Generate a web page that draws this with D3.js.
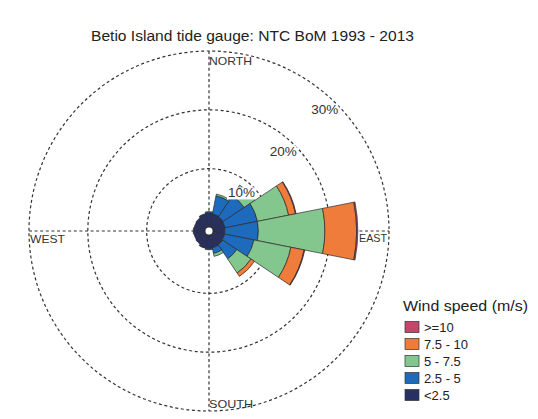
<!DOCTYPE html>
<html>
<head>
<meta charset="utf-8">
<script src="https://cdn.jsdelivr.net/npm/d3@7"></script>
<style>
  html, body { margin: 0; padding: 0; background: #fff; }
  svg { display: block; font-family: "Liberation Sans", Arial, sans-serif; }
</style>
</head>
<body>
<svg id="rose" width="538" height="419"></svg>
<script>
// Wind direction sectors (16 points, clockwise from north)
const directions = ["N","NNE","NE","ENE","E","ESE","SE","SSE","S","SSW","SW","WSW","W","WNW","NW","NNW"];

// Frequency (%) of each speed band per direction
const speedLt25   = [2.5,2.4,2.3,2.2,2.1,2.1,2.2,2.3,2.4,2.3,2.1,2.0,2.1,2.0,2.1,2.3];
const speed25to5  = [0.2,3.1,4.3,5.6,5.7,5.1,2.9,1.0,0.2,0.1,0,0,0,0,0,0.1];
const speed5to75  = [0,0.3,2.2,5.4,11.3,6.4,2.9,0.5,0,0,0,0,0,0,0,0];
const speed75to10 = [0,0,0,1.2,5.4,2.3,0.7,0,0,0,0,0,0,0,0,0];
const speedGe10   = [0,0,0,0.1,0.2,0.1,0,0,0,0,0,0,0,0,0,0];

// Band labels (legend order, top to bottom) and colours
const bandLabels = [">=10","7.5 - 10","5 - 7.5","2.5 - 5","<2.5"];
const bandColors = ["#c2476a","#ef7c3a","#84c78e","#1e6bbd","#282f62"];

// Grid rings and their labels
const ringValues = [10, 20, 30];
const ringLabels = ["10%","20%","30%"];
const compassLabels = ["NORTH","EAST","SOUTH","WEST"];
const titleText = "Betio Island tide gauge: NTC BoM 1993 - 2013";
const legendTitle = "Wind speed (m/s)";

const svg = d3.select("#rose");
const cx = 209, cy = 231;
const hole = 3.5;

// radial scale: percent -> pixels (small open hole at the centre)
const r = d3.scaleLinear().domain([0, 30]).range([hole, 180]);
// angular scale: direction -> sector start angle (radians, 0 = north, clockwise)
const angle = d3.scaleBand().domain(directions).range([-Math.PI / 16, 2 * Math.PI - Math.PI / 16]);

const g = svg.append("g").attr("transform", `translate(${cx},${cy})`);

// grid: dashed rings
g.selectAll("circle.ring").data(ringValues).join("circle")
  .attr("class", "ring")
  .attr("r", d => r(d))
  .attr("fill", "none")
  .attr("stroke", "#333")
  .attr("stroke-width", 1.2)
  .attr("stroke-dasharray", "3,2.6");

// grid: dashed cross-hair axes
const rMax = r(30);
g.append("line").attr("x1", 0).attr("y1", -rMax).attr("x2", 0).attr("y2", rMax)
  .attr("stroke", "#333").attr("stroke-width", 1.2).attr("stroke-dasharray", "3,2.6");
g.append("line").attr("x1", -rMax).attr("y1", 0).attr("x2", rMax).attr("y2", 0)
  .attr("stroke", "#333").attr("stroke-width", 1.2).attr("stroke-dasharray", "3,2.6");

// stack the bands outward from the centre: <2.5, 2.5-5, 5-7.5, 7.5-10, >=10
const bandsInner = [speedLt25, speed25to5, speed5to75, speed75to10, speedGe10];
const colorsInner = bandColors.slice().reverse();
const pieces = [];
directions.forEach((dir, i) => {
  let cum = 0;
  bandsInner.forEach((arr, b) => {
    const v = arr[i];
    if (v > 0) pieces.push({ dir, b, lo: cum, hi: cum + v });
    cum += v;
  });
});

const arc = d3.arc()
  .innerRadius(d => r(d.lo))
  .outerRadius(d => r(d.hi))
  .startAngle(d => angle(d.dir))
  .endAngle(d => angle(d.dir) + angle.bandwidth());

g.selectAll("path.band").data(pieces).join("path")
  .attr("class", "band")
  .attr("d", arc)
  .attr("fill", d => colorsInner[d.b])
  .attr("stroke", "#2a2a2a")
  .attr("stroke-width", 0.7)
  .attr("stroke-linejoin", "round");

// open centre
g.append("circle").attr("r", hole).attr("fill", "#fff");

// ring labels with a white backing, placed at 45 degrees
const s45 = Math.SQRT1_2;
const ringLab = g.selectAll("g.rlab").data(ringValues).join("g")
  .attr("class", "rlab")
  .attr("transform", d => `translate(${r(d) * s45 + 2},${-r(d) * s45 + 10.5})`);
ringLab.append("rect")
  .attr("x", -28).attr("y", -10).attr("width", 28).attr("height", 12)
  .attr("fill", "#fff");
ringLab.append("text")
  .attr("text-anchor", "end")
  .attr("font-size", 12)
  .attr("fill", "#333")
  .attr("textLength", 27)
  .attr("lengthAdjust", "spacingAndGlyphs")
  .text((d, i) => ringLabels[i]);

// compass labels
const compassPos = [
  { x: 0, y: -rMax + 14, len: 43 },
  { x: 150, y: 11, len: 28 },
  { x: 0, y: rMax - 3.5, len: 44 },
  { x: -rMax + 1, y: 12, len: 35 }
];
g.selectAll("text.compass").data(compassLabels).join("text")
  .attr("class", "compass")
  .attr("x", (d, i) => compassPos[i].x)
  .attr("y", (d, i) => compassPos[i].y)
  .attr("font-size", 11.5)
  .attr("fill", "#333")
  .attr("textLength", (d, i) => compassPos[i].len)
  .attr("lengthAdjust", "spacingAndGlyphs")
  .text(d => d);

// title
svg.append("text")
  .attr("x", 252.5).attr("y", 41)
  .attr("text-anchor", "middle")
  .attr("font-size", 15.5)
  .attr("fill", "#222")
  .attr("textLength", 323)
  .attr("lengthAdjust", "spacingAndGlyphs")
  .text(titleText);

// legend
const legend = svg.append("g").attr("transform", "translate(403,0)");
legend.append("text")
  .attr("x", 0).attr("y", 311)
  .attr("font-size", 15)
  .attr("fill", "#222")
  .attr("textLength", 125)
  .attr("lengthAdjust", "spacingAndGlyphs")
  .text(legendTitle);

const ly = d3.scalePoint().domain(bandLabels).range([327, 395]);
const items = legend.selectAll("g.item").data(bandLabels).join("g")
  .attr("class", "item")
  .attr("transform", d => `translate(0,${ly(d)})`);
items.append("rect")
  .attr("x", 2).attr("y", -5.5).attr("width", 14).attr("height", 11)
  .attr("fill", (d, i) => bandColors[i])
  .attr("stroke", "#333").attr("stroke-width", 0.7);
items.append("text")
  .attr("x", 21).attr("y", 4.6)
  .attr("font-size", 13)
  .attr("fill", "#222")
  .text(d => d);
</script>
</body>
</html>
